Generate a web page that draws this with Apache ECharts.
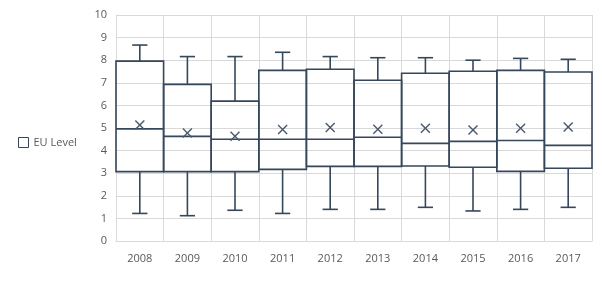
<!DOCTYPE html>
<html>
<head>
<meta charset="utf-8">
<script src="https://cdn.jsdelivr.net/npm/echarts@6/dist/echarts.min.js"></script>
<style>
  html, body { margin: 0; padding: 0; background: #fff; }
  #chart { width: 602px; height: 281px; }
</style>
</head>
<body>
<div id="chart"></div>
<script>
// box plot values per year
var years = ['2008', '2009', '2010', '2011', '2012', '2013', '2014', '2015', '2016', '2017'];
var minVals = [1.22, 1.12, 1.36, 1.22, 1.40, 1.40, 1.49, 1.33, 1.40, 1.49];
var q1Vals = [3.07, 3.07, 3.07, 3.17, 3.30, 3.30, 3.32, 3.26, 3.08, 3.22];
var medianVals = [4.96, 4.63, 4.50, 4.50, 4.50, 4.59, 4.32, 4.41, 4.45, 4.23];
var q3Vals = [7.96, 6.93, 6.19, 7.55, 7.60, 7.11, 7.42, 7.51, 7.55, 7.48];
var maxVals = [8.67, 8.16, 8.16, 8.35, 8.16, 8.11, 8.11, 8.00, 8.08, 8.04];
var meanVals = [5.13, 4.78, 4.63, 4.93, 5.02, 4.94, 4.99, 4.91, 4.99, 5.04];
var yTicks = [0, 10, 1]; // min, max, interval

var lineColor = '#35475b';
var textColor = '#595959';

var rows = years.map(function (y, i) {
  return [i, minVals[i], q1Vals[i], medianVals[i], q3Vals[i], maxVals[i], meanVals[i]];
});

function renderBox(params, api) {
  var i = api.value(0);
  var bw = api.size([1, 0])[0];
  var cx = api.coord([i, 0])[0];
  var yMin = api.coord([i, api.value(1)])[1];
  var yQ1 = api.coord([i, api.value(2)])[1];
  var yMed = api.coord([i, api.value(3)])[1];
  var yQ3 = api.coord([i, api.value(4)])[1];
  var yMax = api.coord([i, api.value(5)])[1];
  var yMean = api.coord([i, api.value(6)])[1];
  var half = bw / 2;
  var cap = bw * 0.16;
  var m = 4.5;
  var st = { stroke: lineColor, lineWidth: 1.6, fill: null };
  var stMean = { stroke: '#4a5a6c', lineWidth: 1.4, fill: null };
  return {
    type: 'group',
    children: [
      { type: 'rect', shape: { x: cx - half, y: yQ3, width: bw, height: yQ1 - yQ3 }, style: st },
      { type: 'line', shape: { x1: cx - half, y1: yMed, x2: cx + half, y2: yMed }, style: st },
      { type: 'line', shape: { x1: cx, y1: yQ3, x2: cx, y2: yMax }, style: st },
      { type: 'line', shape: { x1: cx - cap, y1: yMax, x2: cx + cap, y2: yMax }, style: st },
      { type: 'line', shape: { x1: cx, y1: yQ1, x2: cx, y2: yMin }, style: st },
      { type: 'line', shape: { x1: cx - cap, y1: yMin, x2: cx + cap, y2: yMin }, style: st },
      { type: 'line', shape: { x1: cx - m, y1: yMean - m, x2: cx + m, y2: yMean + m }, style: stMean },
      { type: 'line', shape: { x1: cx - m, y1: yMean + m, x2: cx + m, y2: yMean - m }, style: stMean }
    ]
  };
}

var chart = echarts.init(document.getElementById('chart'), null, { renderer: 'canvas' });

chart.setOption({
  animation: false,
  backgroundColor: '#fff',
  textStyle: { fontFamily: '"Open Sans", "DejaVu Sans", sans-serif' },
  legend: {
    orient: 'vertical',
    left: 13,
    top: 132,
    itemWidth: 10,
    itemHeight: 10,
    itemGap: 5,
    icon: 'rect',
    textStyle: { color: textColor, fontSize: 11 },
    data: [{ name: 'EU Level', itemStyle: { color: '#fff', borderColor: lineColor, borderWidth: 1 } }]
  },
  grid: { left: 116, right: 10, top: 15, bottom: 40 },
  xAxis: {
    type: 'category',
    data: years,
    boundaryGap: true,
    axisLine: { show: true, lineStyle: { color: '#d9d9d9' } },
    axisTick: { show: false },
    splitLine: { show: true, lineStyle: { color: '#d9d9d9' } },
    axisLabel: { color: textColor, fontSize: 11, margin: 12 }
  },
  yAxis: {
    type: 'value',
    min: yTicks[0],
    max: yTicks[1],
    interval: yTicks[2],
    axisLine: { show: true, lineStyle: { color: '#d9d9d9' } },
    axisTick: { show: false },
    splitLine: { show: true, lineStyle: { color: '#d9d9d9' } },
    axisLabel: { color: textColor, fontSize: 11, margin: 9 }
  },
  series: [{
    name: 'EU Level',
    type: 'custom',
    renderItem: renderBox,
    encode: { x: 0, y: [1, 2, 3, 4, 5] },
    data: rows
  }]
});
</script>
</body>
</html>
